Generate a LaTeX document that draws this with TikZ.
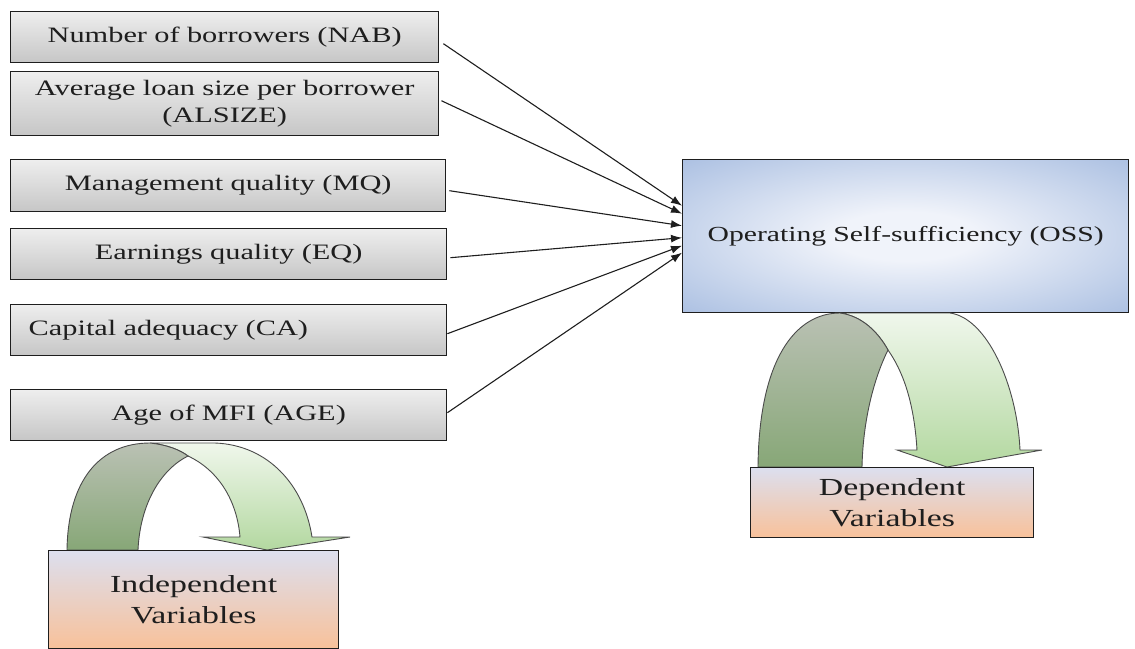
\documentclass[tikz,border=0pt]{standalone}
\usepackage{fontspec}
\setmainfont{Liberation Serif}[FakeStretch=1.38]
\usetikzlibrary{arrows.meta}

\definecolor{greytop}{HTML}{EEEEEE}
\definecolor{greybot}{HTML}{C6C6C6}
\definecolor{ossin}{HTML}{F0F3FA}
\definecolor{ossout}{HTML}{A6BCE0}
\definecolor{labtop}{HTML}{DCDFEF}
\definecolor{labmid}{HTML}{EDD3C8}
\definecolor{labbot}{HTML}{F8C19A}
\definecolor{darktop}{HTML}{BAC1B4}
\definecolor{darkbot}{HTML}{87A777}
\definecolor{lighttop}{HTML}{F0F7EC}
\definecolor{lightbot}{HTML}{B3D8A0}
\definecolor{ink}{HTML}{1E1E1E}

\pgfdeclareradialshading{ossglow}{\pgfpoint{0bp}{0bp}}{%
  color(0bp)=(ossin); color(8bp)=(ossin); color(38bp)=(ossout); color(50bp)=(ossout)}

\begin{document}
\begin{tikzpicture}[x=1pt, y=-1pt,
  varbox/.style={draw=ink, line width=1.4pt, inner sep=0pt, anchor=north west,
    top color=greytop, bottom color=greybot, align=center, text=ink,
    font=\fontsize{22}{27}\selectfont},
  ossbox/.style={draw=ink, line width=1.4pt, inner sep=0pt, anchor=north west,
    shading=ossglow, align=center, text=ink, font=\fontsize{21.5}{26}\selectfont},
  labbox/.style={draw=ink, line width=1.3pt, inner sep=0pt, anchor=north west,
    top color=labtop, middle color=labmid, bottom color=labbot, align=center,
    text=ink, font=\fontsize{24.5}{31}\selectfont},
  conn/.style={draw=ink, line width=1.1pt, -{Latex[length=11pt,width=8pt]}},
  backarc/.style={draw=ink!80, line width=0.9pt, top color=darktop, bottom color=darkbot},
  frontarc/.style={draw=ink!80, line width=0.9pt, top color=lighttop, bottom color=lightbot}]

\useasboundingbox (0,0) rectangle (1135,648);

% independent variables
\node[varbox, text width=428pt, minimum height=51pt] (nab) at (10,11) {Number of borrowers (NAB)};
\node[varbox, text width=428pt, minimum height=64pt] (als) at (10,71) {Average loan size per borrower\\(ALSIZE)};
\node[varbox, text width=435pt, minimum height=52pt] (mq) at (10,159) {Management quality (MQ)};
\node[varbox, text width=436pt, minimum height=51pt] (eq) at (10,228) {Earnings quality (EQ)};
\node[varbox, align=left, inner xsep=18pt, text width=400pt, minimum height=51pt] (ca) at (10,304) {Capital adequacy (CA)};
\node[varbox, text width=436pt, minimum height=51pt] (age) at (10,389) {Age of MFI (AGE)};

% dependent variable
\node[ossbox, text width=446pt, minimum height=153pt] (oss) at (682,159) {Operating Self-sufficiency (OSS)};

% connectors
\draw[conn] ([xshift=4pt,yshift=-6.5pt]nab.east) -- ([yshift=30.5pt]oss.west);
\draw[conn] ([xshift=2pt,yshift=3pt]als.east) -- ([yshift=22.5pt]oss.west);
\draw[conn] ([xshift=3pt,yshift=-5pt]mq.east) -- ([yshift=10.5pt]oss.west);
\draw[conn] ([xshift=3pt,yshift=-3.5pt]eq.east) -- ([yshift=-1.5pt]oss.west);
\draw[conn] ([yshift=-3.5pt]ca.east) -- ([yshift=-9.5pt]oss.west);
\draw[conn] ([yshift=2.5pt]age.east) -- ([yshift=-16.5pt]oss.west);

% U-turn arrow above the independent label
\path[frontarc] (150,443) -- (215,443) .. controls (268,445) and (304,485) .. (312,537)
  -- (350,537) -- (267,550) -- (203,537) -- (240,537)
  .. controls (237,500) and (218,470) .. (188,456)
  .. controls (180,450) and (168,445) .. (150,443) -- cycle;
\path[backarc] (67,550) .. controls (68,480) and (100,443) .. (150,443)
  .. controls (168,445) and (180,450) .. (188,456)
  .. controls (160,470) and (140,505) .. (138,550) -- cycle;

% U-turn arrow above the dependent label
\path[frontarc] (840,313) -- (950,313) .. controls (987,318) and (1017,385) .. (1020,450)
  -- (1042,450) -- (947,467) -- (897,450) -- (917,450)
  .. controls (914,400) and (902,370) .. (888,350)
  .. controls (878,332) and (862,316) .. (840,313) -- cycle;
\path[backarc] (758,467) .. controls (759,360) and (795,313) .. (840,313)
  .. controls (862,316) and (878,332) .. (888,350)
  .. controls (874,378) and (863,420) .. (862,467) -- cycle;

% group labels
\node[labbox, text width=283pt, minimum height=70pt] (dep) at (750,467) {Dependent\\Variables};
\node[labbox, text width=290pt, minimum height=98pt] (ind) at (48,550) {Independent\\Variables};

\end{tikzpicture}
\end{document}
